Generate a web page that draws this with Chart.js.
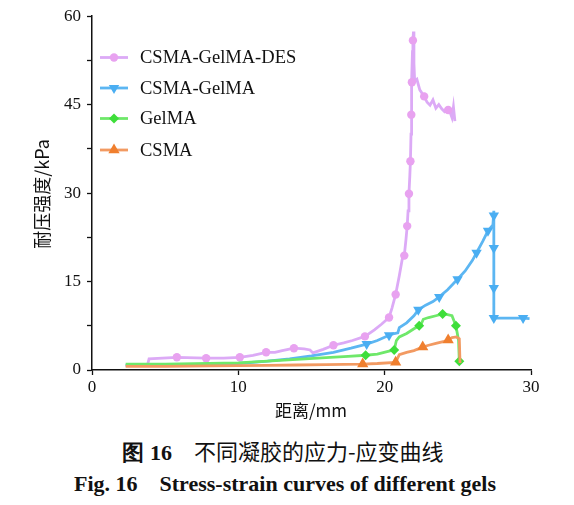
<!DOCTYPE html>
<html>
<head>
<meta charset="utf-8">
<script src="https://cdn.jsdelivr.net/npm/chart.js@4.4.1/dist/chart.umd.min.js"></script>
<style>
  html, body { margin: 0; padding: 0; background: #fff; }
  #wrap { position: relative; width: 574px; height: 505px; }
  #chartBox { position: absolute; left: 0; top: 0; width: 574px; height: 428px; }
  .cap { position: absolute; left: 0; width: 574px; text-align: center; color: #111; white-space: pre; }
  #capCn { top: 434px; font: 22px "Noto Sans CJK SC", sans-serif; left: -4px; }
  #capCn b { font-family: "Liberation Serif", serif; font-weight: bold; }
  #capEn { top: 471px; font: bold 22px "Liberation Serif", serif; left: -2px; }
</style>
</head>
<body>
<div id="wrap">
  <div id="chartBox"><canvas id="gelChart"></canvas></div>
  <div class="cap" id="capCn"><b>图 16</b>　不同凝胶的应力-应变曲线</div>
  <div class="cap" id="capEn">Fig. 16    Stress-strain curves of different gels</div>
</div>
<script>
// ======================================
// DATA
// ======================================
const seriesNames = ['CSMA-GelMA-DES', 'CSMA-GelMA', 'GelMA', 'CSMA'];

// CSMA-GelMA-DES
const desX = [2.3, 3.8, 3.9, 5.8, 7.8, 9.0, 10.1, 11.0, 11.9, 12.5, 13.0, 13.8, 14.5, 14.9, 15.1, 15.8, 16.5, 17.2, 17.8, 18.65,
  19.3, 19.8, 20.3, 20.5, 20.75, 21.0, 21.2, 21.34, 21.45, 21.54, 21.6, 21.66, 21.72, 21.76, 21.8, 21.82, 21.86, 21.9, 21.93, 21.97,
  22.0, 22.05, 22.2, 22.4, 22.7, 22.9, 23.1, 23.3, 23.5, 23.7, 23.9, 24.1, 24.34, 24.5, 24.6, 24.7, 24.8];
const desY = [0.8, 0.9, 1.9, 2.15, 2.0, 2.0, 2.15, 2.5, 3.0, 3.0, 3.3, 3.7, 3.6, 3.4, 2.9, 3.5, 4.2, 4.6, 5.0, 5.7,
  6.8, 7.8, 8.9, 10.5, 12.8, 16.0, 18.8, 19.4, 22.0, 24.4, 27.0, 29.9, 33.0, 35.4, 40.0, 43.3, 48.8, 54.0, 55.9, 57.4,
  52.0, 49.0, 49.3, 47.5, 46.4, 45.4, 44.9, 45.8, 44.4, 45.0, 44.3, 43.8, 44.1, 43.5, 42.8, 44.6, 42.2];
const desMarks = [3, 4, 6, 8, 11, 16, 19, 22, 24, 27, 29, 31, 33, 35, 36, 38, 44, 52];

// CSMA-GelMA
const cgX = [2.3, 5.0, 8.0, 10.0, 12.0, 13.5, 15.0, 16.5, 17.7, 18.77, 19.5, 20.3, 20.5, 20.9, 21.0, 21.5, 22.0, 22.3, 22.8, 23.3,
  23.73, 24.3, 24.98, 25.5, 26.0, 26.28, 26.7, 27.06, 27.4, 27.46, 27.46, 27.46, 27.46, 27.46, 28.5, 29.46, 29.9];
const cgY = [0.8, 0.8, 0.9, 1.1, 1.5, 1.9, 2.4, 3.0, 3.7, 4.4, 5.0, 5.9, 6.1, 6.3, 7.2, 8.0, 9.2, 10.2, 11.0, 11.6,
  12.4, 13.6, 15.4, 16.8, 18.6, 19.9, 21.8, 23.6, 24.6, 27.0, 26.2, 20.7, 13.9, 8.8, 8.8, 8.8, 8.7];
const cgMarks = [9, 11, 17, 20, 22, 25, 27, 30, 31, 32, 33, 35];

// GelMA
const gelX = [2.3, 5.0, 8.0, 10.0, 12.0, 14.0, 16.0, 17.5, 18.7, 19.5, 20.3, 20.65, 20.8, 21.0, 21.5, 22.0, 22.36, 22.5, 22.64,
  23.0, 23.5, 23.96, 24.3, 24.6, 24.87, 25.05, 25.1];
const gelY = [1.0, 1.0, 1.1, 1.2, 1.5, 1.8, 2.1, 2.3, 2.5, 2.7, 3.2, 3.4, 5.0, 5.6, 6.2, 7.0, 7.5, 7.8, 8.6,
  8.9, 9.2, 9.5, 9.4, 9.2, 7.5, 5.0, 1.5];
const gelMarks = [8, 11, 16, 21, 24, 26];

// CSMA
const csX = [2.3, 5.0, 8.0, 10.0, 12.0, 14.0, 16.0, 18.5, 19.5, 20.75, 21.0, 21.5, 22.0, 22.6, 23.0, 23.5, 24.0, 24.34, 24.6,
  24.9, 25.1, 25.15];
const csY = [0.6, 0.6, 0.7, 0.75, 0.8, 0.85, 0.9, 1.0, 1.1, 1.3, 2.6, 3.0, 3.3, 3.9, 4.2, 4.5, 4.8, 5.1, 5.5,
  5.6, 5.3, 1.2];
const csMarks = [7, 9, 13, 17];

const xTicks = [0, 10, 20, 30];
const yTicks = [0, 15, 30, 45, 60];

// ======================================
// HELPERS
// ======================================
function toPoints(xs, ys) {
  return xs.map(function(x, i) { return { x: x, y: ys[i] }; });
}
function markRadius(marks, r) {
  return function(ctx) { return marks.includes(ctx.dataIndex) ? r : 0; };
}
function makeSet(label, xs, ys, marks, lineColor, pointColor, style, r, rot) {
  return {
    label: label, data: toPoints(xs, ys),
    borderColor: lineColor, backgroundColor: pointColor,
    borderWidth: 2.8, tension: 0,
    pointStyle: style, pointRotation: rot || 0,
    pointRadius: markRadius(marks, r), pointHoverRadius: markRadius(marks, r),
    pointBorderWidth: 0, pointBorderColor: pointColor,
    legendRadius: r
  };
}

const serif = '"Liberation Serif", "Times New Roman", serif';
const cjk = '"Noto Sans CJK SC", sans-serif';

// legend and axis titles drawn inside the figure
const figureDecor = {
  id: 'figureDecor',
  afterDraw: function(chart) {
    const c = chart.ctx;
    const rows = [57.5, 88, 118.5, 150];
    // datasets are stored bottom-series-first so that CSMA is painted on top; legend lists them the other way
    const legendSets = chart.data.datasets.slice().reverse();
    c.save();
    legendSets.forEach(function(ds, i) {
      const y = rows[i];
      c.strokeStyle = ds.borderColor; c.lineWidth = 2.8;
      c.beginPath(); c.moveTo(100, y); c.lineTo(128, y); c.stroke();
      c.fillStyle = ds.backgroundColor; c.strokeStyle = ds.backgroundColor; c.lineWidth = 0;
      Chart.helpers.drawPoint(c, { pointStyle: ds.pointStyle, rotation: ds.pointRotation, radius: ds.legendRadius, borderWidth: 0 }, 114, y);
      c.fillStyle = '#111'; c.font = '18.5px ' + serif; c.textAlign = 'left'; c.textBaseline = 'middle';
      c.fillText(ds.label, 140, y + 1);
    });
    // axis titles
    c.fillStyle = '#111'; c.font = '17px ' + cjk; c.textAlign = 'center'; c.textBaseline = 'middle';
    c.fillText('距离/mm', 311, 411);
    c.font = '18px ' + cjk;
    c.translate(42, 194); c.rotate(-Math.PI / 2);
    c.fillText('耐压强度/kPa', 0, 0);
    c.restore();
  }
};

// ======================================
// CHART
// ======================================
document.addEventListener('DOMContentLoaded', function() {
  const datasets = [
    makeSet(seriesNames[0], desX, desY, desMarks, '#dcaaf6', '#e8a2f0', 'circle', 4.2, 0),
    makeSet(seriesNames[1], cgX, cgY, cgMarks, '#5cb6f2', '#4aaef2', 'triangle', 6, 180),
    makeSet(seriesNames[2], gelX, gelY, gelMarks, '#6fe86a', '#3ede3a', 'rectRot', 5, 0),
    makeSet(seriesNames[3], csX, csY, csMarks, '#f29a62', '#f07f2e', 'triangle', 6.5, 0)
  ];
  const H = 428;
  new Chart(document.getElementById('gelChart'), {
    type: 'line',
    data: { datasets: datasets.slice().reverse() },
    options: {
      responsive: true, maintainAspectRatio: false, animation: false,
      layout: { padding: { top: 16, right: 43, left: 0, bottom: 0 } },
      clip: false,
      plugins: { legend: { display: false }, tooltip: { enabled: false } },
      scales: {
        x: {
          type: 'linear', min: 0, max: 30,
          afterBuildTicks: function(s) { s.ticks = xTicks.map(function(v) { return { value: v }; }); },
          afterFit: function(s) { s.height = H - 370; },
          grid: { drawOnChartArea: false, drawTicks: true, tickLength: 5, color: '#111', tickWidth: 1.3 },
          border: { display: true, color: '#111', width: 1.5 },
          ticks: { color: '#111', font: { family: serif, size: 17 }, padding: 2, maxRotation: 0 }
        },
        y: {
          type: 'linear', min: 0, max: 60,
          ticks: {
            stepSize: 7.5, color: '#111', font: { family: serif, size: 17 }, padding: 6,
            callback: function(v) { return yTicks.includes(v) ? String(v) : ''; }
          },
          afterFit: function(s) { s.width = 92; },
          grid: { drawOnChartArea: false, drawTicks: true, tickLength: 5, color: '#111', tickWidth: 1.3 },
          border: { display: true, color: '#111', width: 1.5 }
        }
      }
    },
    plugins: [figureDecor]
  });
});
</script>
</body>
</html>
